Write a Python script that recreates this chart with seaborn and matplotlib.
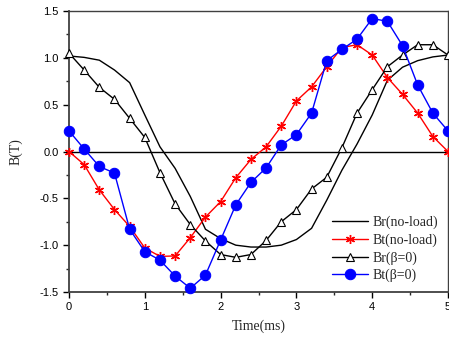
import matplotlib
matplotlib.use("Agg")
import matplotlib.pyplot as plt
import seaborn as sns
import pandas as pd
from matplotlib.ticker import MultipleLocator

time_ms = [0.0, 0.2, 0.4, 0.6, 0.8, 1.0, 1.2, 1.4, 1.6, 1.8, 2.0, 2.2, 2.4,
           2.6, 2.8, 3.0, 3.2, 3.4, 3.6, 3.8, 4.0, 4.2, 4.4, 4.6, 4.8, 5.0]
br_noload = [1.02, 1.005, 0.975, 0.87, 0.735, 0.39, 0.05, -0.18, -0.48, -0.83,
             -0.93, -1.0, -1.02, -1.02, -1.0, -0.94, -0.82, -0.52, -0.2, 0.08,
             0.39, 0.76, 0.9, 0.97, 1.01, 1.03]
bt_noload = [0.0, -0.14, -0.41, -0.62, -0.80, -1.03, -1.12, -1.115, -0.92, -0.70,
             -0.535, -0.28, -0.085, 0.05, 0.27, 0.54, 0.69, 0.905, 1.11, 1.14,
             1.03, 0.79, 0.61, 0.41, 0.16, 0.0]
br_beta0 = [1.05, 0.87, 0.685, 0.557, 0.354, 0.15, -0.226, -0.56, -0.78, -0.955,
            -1.1, -1.13, -1.1, -0.95, -0.75, -0.62, -0.40, -0.275, 0.04, 0.41,
            0.66, 0.905, 1.03, 1.14, 1.14, 1.03]
bt_beta0 = [0.22, 0.027, -0.16, -0.23, -0.83, -1.07, -1.16, -1.33, -1.46, -1.32,
            -0.945, -0.57, -0.33, -0.175, 0.07, 0.18, 0.41, 0.97, 1.09, 1.2,
            1.42, 1.39, 1.13, 0.71, 0.41, 0.22]
labels = ["Br(no-load)", "Bt(no-load)", "Br(\u03b2=0)", "Bt(\u03b2=0)"]
x_ticks = [0, 1, 2, 3, 4, 5]
y_ticks = [-1.5, -1.0, -0.5, 0.0, 0.5, 1.0, 1.5]

sns.set_style("ticks")
plt.rcParams['font.family'] = ['Liberation Sans', 'DejaVu Sans']

fig = plt.figure(figsize=(4.49, 3.42), dpi=100)
ax = fig.add_axes([0.1537, 0.1462, 0.8441, 0.8216])

ax.axhline(0, color="black", lw=1.0, zorder=1)

styles = [
    dict(color="black", marker=None, lw=1.0),
    dict(color="red", marker=(6, 2, 0), markersize=6.5, markeredgewidth=1.0,
         markeredgecolor="red", lw=1.0),
    dict(color="black", marker="^", markersize=6, markerfacecolor="white",
         markeredgecolor="black", markeredgewidth=0.8, lw=1.0),
    dict(color="blue", marker="o", markersize=7.5, markerfacecolor="blue",
         markeredgecolor="blue", lw=1.0),
]
series = [br_noload, bt_noload, br_beta0, bt_beta0]
for lab, vals, st in zip(labels, series, styles):
    df = pd.DataFrame({"t": time_ms, "B": vals})
    sns.lineplot(data=df, x="t", y="B", ax=ax, label=lab, sort=False,
                 estimator=None, clip_on=False, zorder=3, **st)

ax.set_xlim(0, 5)
ax.set_ylim(-1.5, 1.5)
ax.set_xticks(x_ticks)
ax.set_yticks(y_ticks)
ax.set_xticklabels([str(v) for v in x_ticks])
ax.set_yticklabels([f"{v:.1f}" for v in y_ticks])
ax.xaxis.set_minor_locator(MultipleLocator(0.5))
ax.yaxis.set_minor_locator(MultipleLocator(0.25))
ax.tick_params(axis="both", which="major", direction="out", length=4,
               width=1.0, labelsize=8, colors="black")
ax.tick_params(axis="both", which="minor", direction="out", length=2.5, width=1.0)
ax.tick_params(top=False, right=False, which="both")
for s in ax.spines.values():
    s.set_color("#404040")
    s.set_linewidth(1.0)
ax.spines["left"].set_linewidth(1.3)
ax.spines["bottom"].set_linewidth(1.3)

ax.set_xlabel("Time(ms)", family=["Liberation Serif"], fontsize=10, labelpad=5)
ax.set_ylabel("B(T)", family=["Liberation Serif"], fontsize=10, labelpad=12)

leg = ax.legend(loc="lower right", bbox_to_anchor=(1.0, 0.0), frameon=False,
                prop={"family": "Liberation Serif", "size": 10},
                handlelength=2.6, handletextpad=0.3, labelspacing=0.3,
                borderaxespad=0.3)

fig.savefig("out.png", dpi=100)
